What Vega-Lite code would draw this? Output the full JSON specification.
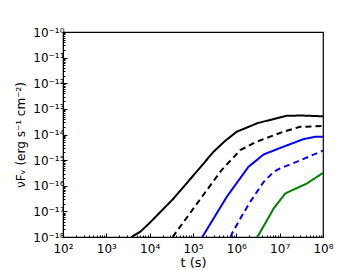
{
  "$schema": "https://vega.github.io/schema/vega-lite/v6.json",
  "width": 260,
  "height": 205,
  "autosize": "none",
  "padding": {"left": 63, "top": 32, "right": 35, "bottom": 33},
  "config": {
    "font": "DejaVu Sans",
    "view": {"stroke": "#000000", "strokeWidth": 1.2},
    "axis": {
      "domainColor": "#000000",
      "tickColor": "#000000",
      "labelColor": "#000000",
      "titleColor": "#000000",
      "labelFont": "DejaVu Sans",
      "titleFont": "DejaVu Sans",
      "labelFontSize": 12,
      "titleFontSize": 12,
      "titleFontWeight": "normal",
      "grid": false,
      "labelOverlap": false,
      "labelFlush": false
    }
  },
  "data": {
    "values": [
      {"s": "A", "t": 3802, "f": 1e-18},
      {"s": "A", "t": 6026, "f": 1.585e-18},
      {"s": "A", "t": 10000, "f": 3.548e-18},
      {"s": "A", "t": 35481, "f": 3.162e-17},
      {"s": "A", "t": 144544, "f": 5.012e-16},
      {"s": "A", "t": 295121, "f": 2.089e-15},
      {"s": "A", "t": 549541, "f": 5.623e-15},
      {"s": "A", "t": 1023293, "f": 1.288e-14},
      {"s": "A", "t": 3162278, "f": 2.818e-14},
      {"s": "A", "t": 14454398, "f": 5.37e-14},
      {"s": "A", "t": 31622777, "f": 5.495e-14},
      {"s": "A", "t": 100000000, "f": 5.129e-14},
      {"s": "B", "t": 33884, "f": 1e-18},
      {"s": "B", "t": 38905, "f": 1.38e-18},
      {"s": "B", "t": 208930, "f": 6.761e-17},
      {"s": "B", "t": 457088, "f": 4.074e-16},
      {"s": "B", "t": 1230269, "f": 2.455e-15},
      {"s": "B", "t": 2951209, "f": 5.248e-15},
      {"s": "B", "t": 12302688, "f": 1.288e-14},
      {"s": "B", "t": 29512092, "f": 1.995e-14},
      {"s": "B", "t": 100000000, "f": 2.138e-14},
      {"s": "C", "t": 162181, "f": 1e-18},
      {"s": "C", "t": 173780, "f": 1.175e-18},
      {"s": "C", "t": 602560, "f": 3.715e-17},
      {"s": "C", "t": 1023293, "f": 1.288e-16},
      {"s": "C", "t": 1905461, "f": 5.495e-16},
      {"s": "C", "t": 4265795, "f": 1.66e-15},
      {"s": "C", "t": 11220185, "f": 3.162e-15},
      {"s": "C", "t": 35481339, "f": 6.607e-15},
      {"s": "C", "t": 66069345, "f": 8.128e-15},
      {"s": "C", "t": 100000000, "f": 8.128e-15},
      {"s": "D", "t": 741310, "f": 1e-18},
      {"s": "D", "t": 794328, "f": 1.38e-18},
      {"s": "D", "t": 1445440, "f": 8.318e-18},
      {"s": "D", "t": 2089296, "f": 2.344e-17},
      {"s": "D", "t": 4265795, "f": 1.413e-16},
      {"s": "D", "t": 7244360, "f": 3.467e-16},
      {"s": "D", "t": 10232930, "f": 4.786e-16},
      {"s": "D", "t": 24547089, "f": 8.511e-16},
      {"s": "D", "t": 100000000, "f": 2.344e-15},
      {"s": "E", "t": 2951209, "f": 1e-18},
      {"s": "E", "t": 3235937, "f": 1.175e-18},
      {"s": "E", "t": 7244360, "f": 1.288e-17},
      {"s": "E", "t": 13489629, "f": 5.012e-17},
      {"s": "E", "t": 42657952, "f": 1.23e-16},
      {"s": "E", "t": 100000000, "f": 3.162e-16}
    ]
  },
  "mark": {"type": "line", "strokeWidth": 2, "clip": true},
  "encoding": {
    "x": {
      "field": "t",
      "type": "quantitative",
      "scale": {"type": "log", "domain": [100, 100000000], "nice": false},
      "axis": {
        "title": "t (s)",
        "titleFontSize": 13,
        "titlePadding": 0,
        "tickCount": 60,
        "labelPadding": 10,
        "tickSize": {"condition": {"test": "abs(log(datum.value)/LN10 - round(log(datum.value)/LN10)) < 0.001", "value": -4}, "value": -2},
        "labelExpr": "abs(log(datum.value)/LN10 - round(log(datum.value)/LN10)) < 0.001 ? ['','','10²','10³','10⁴','10⁵','10⁶','10⁷','10⁸'][round(log(datum.value)/LN10)] : ''"
      }
    },
    "y": {
      "field": "f",
      "type": "quantitative",
      "scale": {"type": "log", "domain": [1e-18, 1e-10], "nice": false},
      "axis": {
        "title": "νFᵥ (erg s⁻¹ cm⁻²)",
        "titlePadding": 5,
        "tickCount": 80,
        "labelPadding": 3,
        "tickSize": {"condition": {"test": "abs(log(datum.value)/LN10 - round(log(datum.value)/LN10)) < 0.001", "value": -4}, "value": -2},
        "labelExpr": "abs(log(datum.value)/LN10 - round(log(datum.value)/LN10)) < 0.001 ? '10⁻' + ['¹⁰','¹¹','¹²','¹³','¹⁴','¹⁵','¹⁶','¹⁷','¹⁸'][-round(log(datum.value)/LN10)-10] : ''"
      }
    },
    "color": {
      "field": "s",
      "type": "nominal",
      "scale": {"domain": ["A", "B", "C", "D", "E"], "range": ["#000000", "#000000", "#0000ff", "#0000ff", "#008000"]},
      "legend": null
    },
    "strokeDash": {
      "field": "s",
      "type": "nominal",
      "scale": {"domain": ["A", "B", "C", "D", "E"], "range": [[1, 0], [6, 4], [1, 0], [6, 4], [1, 0]]},
      "legend": null
    }
  }
}
